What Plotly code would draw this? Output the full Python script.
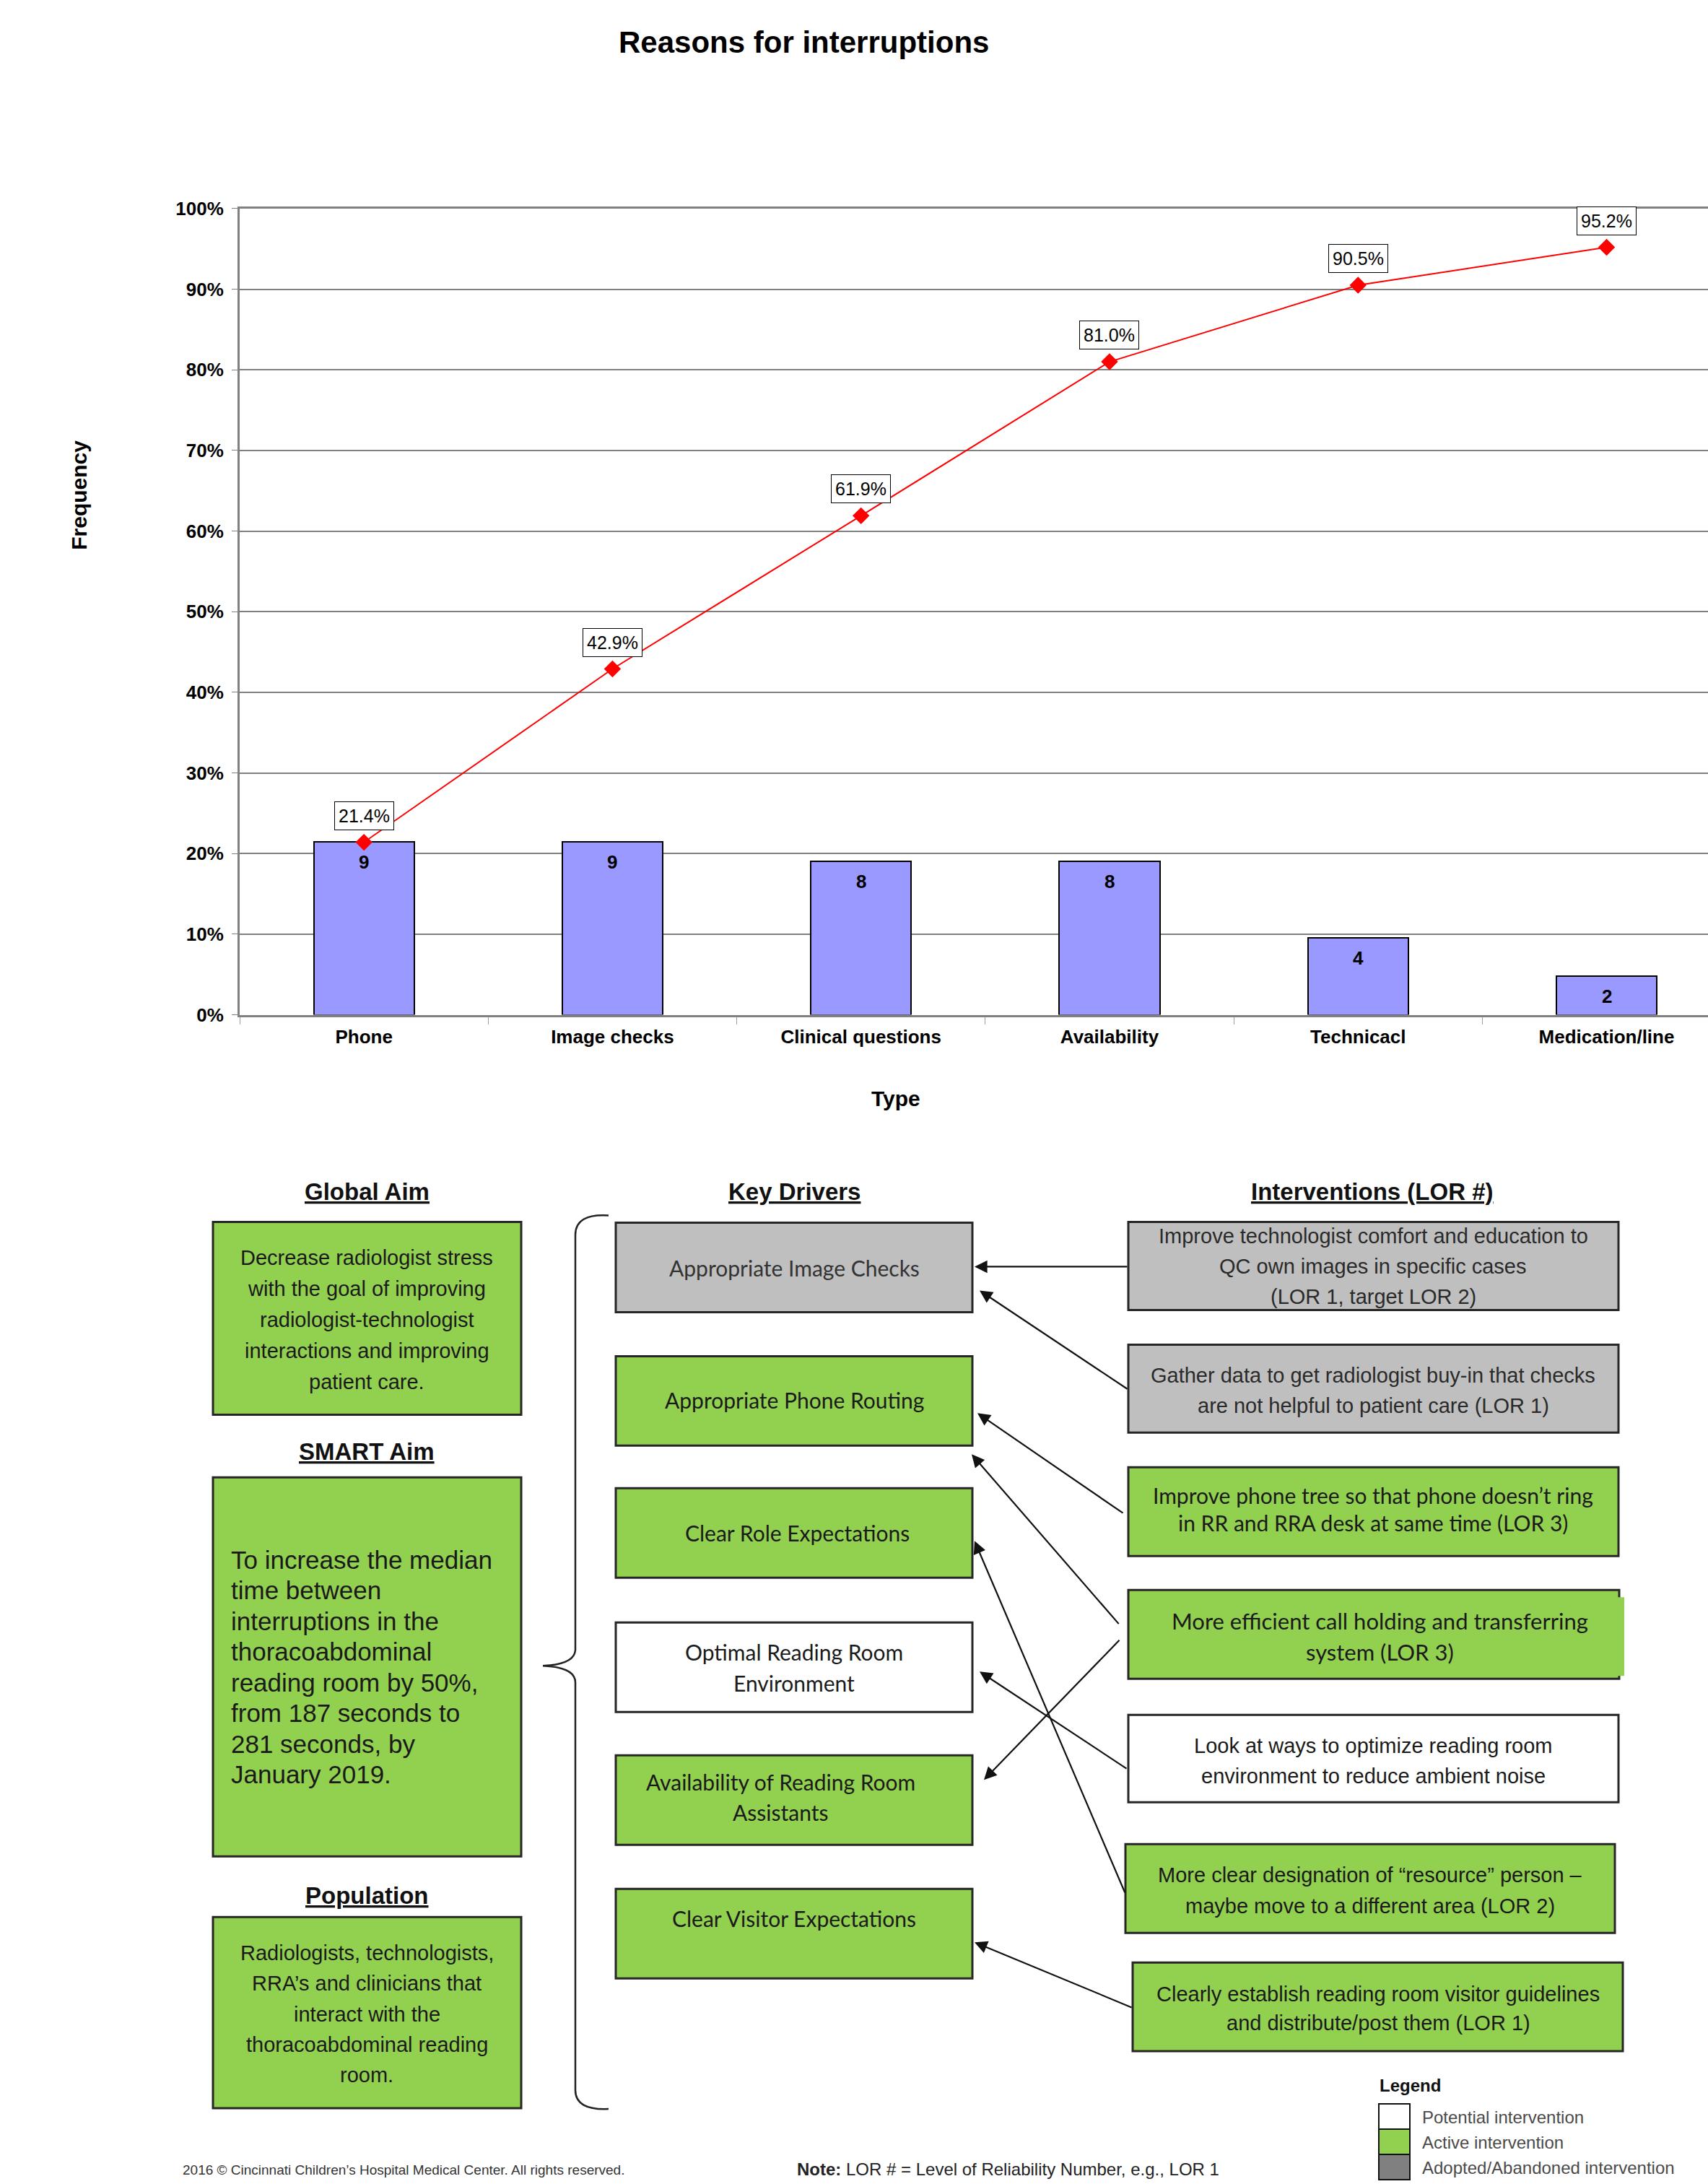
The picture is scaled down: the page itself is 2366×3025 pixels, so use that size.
import plotly.graph_objects as go

W, H = 2366, 3025

# ---------------- Pareto chart data ----------------
categories = ["Phone", "Image checks", "Clinical questions", "Availability", "Technicacl", "Medication/line"]
counts = [9, 9, 8, 8, 4, 2]
total_count = 42
cumulative_pct = [21.4, 42.9, 61.9, 81.0, 90.5, 95.2]
y_tick_vals = [0.0, 0.1, 0.2, 0.3, 0.4, 0.5, 0.6, 0.7, 0.8, 0.9, 1.0]
y_tick_text = ["0%", "10%", "20%", "30%", "40%", "50%", "60%", "70%", "80%", "90%", "100%"]

# ---------------- Driver diagram content ----------------
global_aim = ["Decrease radiologist stress", "with the goal of improving", "radiologist-technologist",
              "interactions and improving", "patient care."]
smart_aim = ["To increase the median", "time between", "interruptions in the", "thoracoabdominal",
             "reading room by 50%,", "from 187 seconds to", "281 seconds, by", "January 2019."]
population = ["Radiologists, technologists,", "RRA\u2019s and clinicians that", "interact with the",
              "thoracoabdominal reading", "room."]
key_drivers = [["Appropriate Image Checks"], ["Appropriate Phone Routing"], ["Clear Role Expectations"],
               ["Optimal Reading Room", "Environment"], ["Availability of Reading Room", "Assistants"],
               ["Clear Visitor Expectations"]]
driver_status = ["adopted", "active", "active", "potential", "active", "active"]
interventions = [
    ["Improve technologist comfort and education to", "QC own images in specific cases", "(LOR 1, target LOR 2)"],
    ["Gather data to get radiologist buy-in that checks", "are not helpful to patient care (LOR 1)"],
    ["Improve phone tree so that phone doesn\u2019t ring", "in RR and RRA desk at same time (LOR 3)"],
    ["More efficient call holding and transferring", "system (LOR 3)"],
    ["Look at ways to optimize reading room", "environment to reduce ambient noise"],
    ["More clear designation of \u201cresource\u201d person \u2013", "maybe move to a different area (LOR 2)"],
    ["Clearly establish reading room visitor guidelines", "and distribute/post them (LOR 1)"],
]
intervention_status = ["adopted", "adopted", "active", "active", "potential", "active", "active"]
legend_items = ["Potential intervention", "Active intervention", "Adopted/Abandoned intervention"]

STATUS_FILL = {"potential": "#FFFFFF", "active": "#92D050", "adopted": "#BFBFBF"}
LEGEND_FILL = ["#FFFFFF", "#92D050", "#808080"]

ARIAL = "Liberation Sans, Arial, sans-serif"
CAL = "Lato, Carlito, Calibri, sans-serif"
BORDER = "#262626"

# ---------------- helpers (page pixel -> paper) ----------------
# vertical placement is tuned for the way the page is framed on screen
Y_OFF, Y_SCALE = 14.0, 0.9904


def px(x):
    return x / W


def py(y):
    return 1 - ((y - Y_OFF) / Y_SCALE) / H


shapes = []
annotations = []


def box(x0, y0, x1, y1, fill, width=3, color=BORDER):
    shapes.append(dict(type="rect", xref="paper", yref="paper", x0=px(x0), x1=px(x1),
                       y0=py(y1), y1=py(y0), fillcolor=fill,
                       line=dict(color=color, width=width), layer="above"))


def text(x, y, s, size, family=ARIAL, color="#1a1a1a", anchor="center", bold=False, angle=0):
    annotations.append(dict(xref="paper", yref="paper", x=px(x), y=py(y), text=s, showarrow=False,
                            xanchor=anchor, yanchor="middle", textangle=angle,
                            font=dict(size=size, family=family, color=color,
                                      weight="bold" if bold else "normal")))


def lines(x, ys, rows, size, family=ARIAL, color="#1a1a1a", anchor="center"):
    for y, row in zip(ys, rows):
        text(x, y, row, size, family, color, anchor)


def arrow(tail, head):
    annotations.append(dict(xref="paper", yref="paper", x=px(head[0]), y=py(head[1]),
                            axref="pixel", ayref="pixel",
                            ax=tail[0] - head[0], ay=(tail[1] - head[1]) / Y_SCALE,
                            text="", showarrow=True, arrowhead=2, arrowsize=1.6,
                            arrowwidth=2.2, arrowcolor="#111111", standoff=0))


# ---------------- Pareto chart ----------------
fig = go.Figure()
fig.add_trace(go.Bar(
    x=categories, y=[c / total_count for c in counts], width=0.404,
    marker=dict(color="#9999FF", line=dict(color="#000000", width=2)),
    hoverinfo="skip", showlegend=False))
fig.add_trace(go.Scatter(
    x=categories, y=[v / 100 for v in cumulative_pct], mode="lines+markers",
    line=dict(color="#FF0000", width=2),
    marker=dict(symbol="diamond", size=18, color="#FF0000"),
    hoverinfo="skip", showlegend=False))

for cat, c in zip(categories, counts):
    annotations.append(dict(xref="x", yref="y", x=cat, y=c / total_count, yshift=-28,
                            text=str(c), showarrow=False,
                            font=dict(size=26, family=ARIAL, color="#000000", weight="bold")))
for cat, v in zip(categories, cumulative_pct):
    annotations.append(dict(xref="x", yref="y", x=cat, y=v / 100, yshift=37,
                            text=f"{v:.1f}%", showarrow=False, bgcolor="#FFFFFF",
                            bordercolor="#000000", borderwidth=1, borderpad=5,
                            font=dict(size=25, family=ARIAL, color="#000000")))

text(1113, 58, "Reasons for interruptions", 42, bold=True, color="#000000")
text(110, 685, "Frequency", 30, bold=True, color="#000000", angle=-90)
text(1241, 1521, "Type", 30, bold=True, color="#000000")

# ---------------- Driver diagram ----------------
# column headers
for hx, hy, label in [(508, 1650, "Global Aim"), (508, 2010, "SMART Aim"), (508, 2625, "Population"),
                      (1100, 1650, "Key Drivers"), (1901, 1650, "Interventions (LOR #)")]:
    text(hx, hy, f"<u>{label}</u>", 33, bold=True, color="#111111")

# aims column
box(295, 1692, 722, 1959, "#92D050")
lines(508, [1742 + 43 * i for i in range(5)], global_aim, 29)
box(295, 2046, 722, 2571, "#92D050")
lines(318, [2160 + 42.5 * i for i in range(8)], smart_aim, 35, anchor="left")
box(295, 2655, 722, 2920, "#92D050")
lines(508, [2705 + 42.3 * i for i in range(5)], population, 29)

# curly brace joining aims to drivers
brace = (f"M {px(843)},{py(1683)} Q {px(797)},{py(1680)} {px(797)},{py(1710)} "
         f"L {px(797)},{py(2284)} Q {px(797)},{py(2305)} {px(752)},{py(2307)} "
         f"Q {px(797)},{py(2309)} {px(797)},{py(2330)} "
         f"L {px(797)},{py(2895)} Q {px(797)},{py(2923)} {px(843)},{py(2921)}")
shapes.append(dict(type="path", xref="paper", yref="paper", path=brace,
                   line=dict(color="#222222", width=2.5)))

# key driver boxes
driver_tops = [1693, 1878, 2061, 2247, 2431, 2616]
driver_text_y = [[1756], [1939], [2123], [2288, 2331], [2468, 2510], [2657]]
driver_text_x = [1100, 1100, 1104, 1100, 1081, 1100]
for rows, status, top, ys, tx in zip(key_drivers, driver_status, driver_tops, driver_text_y, driver_text_x):
    box(853, top, 1347, top + 124, STATUS_FILL[status])
    col = "#333333" if status == "adopted" else "#1a1a1a"
    lines(tx, ys, rows, 30, family=CAL, color=col)

# intervention boxes
interv_boxes = [(1563, 1692, 2242, 1814), (1563, 1862, 2242, 1984), (1563, 2032, 2242, 2155),
                (1563, 2202, 2243, 2325), (1563, 2375, 2242, 2496), (1559, 2554, 2237, 2677),
                (1569, 2718, 2248, 2841)]
interv_text_y = [[1712, 1754, 1796], [1905, 1947], [2071, 2109], [2245, 2288], [2418, 2460],
                 [2597, 2640], [2762, 2802]]
interv_text_x = [1902, 1902, 1902, 1911, 1902, 1898, 1909]
interv_font = [(29, ARIAL), (29, ARIAL), (30, CAL), (31, CAL), (29, ARIAL), (29, ARIAL), (29, ARIAL)]
for rows, status, b, ys, tx, (fs, fam) in zip(interventions, intervention_status, interv_boxes,
                                              interv_text_y, interv_text_x, interv_font):
    box(*b, STATUS_FILL[status])
    col = "#2a2a2a" if status == "adopted" else "#1a1a1a"
    lines(tx, ys, rows, fs, family=fam, color=col)
# green overhang on the call-holding box
box(2240, 2212, 2250, 2321, "#92D050", width=0)

# connectors: intervention -> key driver
connectors = [
    ((1563, 1754), (1350, 1754)),
    ((1563, 1923), (1357, 1787)),
    ((1557, 2095), (1354, 1957)),
    ((1551, 2248), (1346, 2014)),
    ((1552, 2272), (1363, 2465)),
    ((1562, 2449), (1357, 2315)),
    ((1559, 2618), (1350, 2134)),
    ((1569, 2780), (1350, 2690)),
]
for tail, head in connectors:
    arrow(tail, head)

# status legend
text(1909, 2888, "Legend", 24, bold=True, color="#111111", anchor="left")
for i, (label, fill) in enumerate(zip(legend_items, LEGEND_FILL)):
    y0 = 2914 + 35 * i
    box(1910, y0, 1953, y0 + 35, fill, width=2, color="#111111")
    text(1968, y0 + 18, label, 24, color="#4a4a4a", anchor="left")

# footer
text(251, 3005, "2016 \u00a9 Cincinnati Children\u2019s Hospital Medical Center. All rights reserved.", 19,
     color="#333333", anchor="left")
text(1102, 3004, "<b>Note:</b> LOR # = Level of Reliability Number, e.g., LOR 1", 24,
     color="#222222", anchor="left")

# ---------------- layout ----------------
fig.update_layout(
    width=W, height=H, margin=dict(l=0, r=0, t=0, b=0),
    paper_bgcolor="#FFFFFF", plot_bgcolor="#FFFFFF",
    bargap=0, showlegend=False,
    xaxis=dict(domain=[332 / W, 1.0], type="category", range=[-0.5, 5.408],
               showline=True, linecolor="#808080", linewidth=3, mirror=True,
               ticks="outside", tickson="boundaries", ticklen=10, tickcolor="#A0A0A0",
               ticklabelstandoff=5,
               tickfont=dict(size=26, family=ARIAL, color="#000000", weight="bold"),
               showgrid=False, zeroline=False, fixedrange=True),
    yaxis=dict(domain=[py(1405), py(288)], range=[0, 1],
               tickvals=y_tick_vals, ticktext=y_tick_text,
               showgrid=True, gridcolor="#808080", gridwidth=1.5,
               showline=True, linecolor="#808080", linewidth=3,
               ticks="outside", ticklen=8, tickcolor="#808080", ticklabelstandoff=6,
               tickfont=dict(size=26, family=ARIAL, color="#000000", weight="bold"),
               zeroline=False, fixedrange=True),
    shapes=shapes,
    annotations=annotations,
)

fig.write_html("out.html")
